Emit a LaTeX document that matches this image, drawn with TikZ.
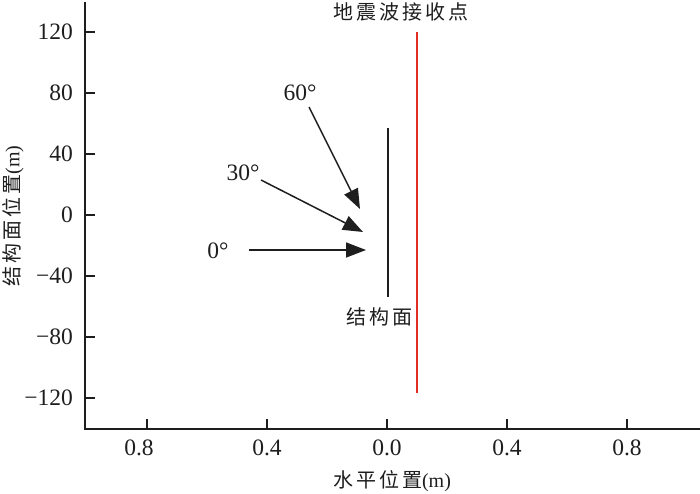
\documentclass[tikz,border=0pt]{standalone}
\usepackage{fontspec}
\setmainfont{Liberation Serif}
\newfontfamily\cjk[LetterSpace=15]{Noto Sans CJK SC}
\usetikzlibrary{arrows.meta}
\definecolor{recv}{RGB}{225,45,35}
\definecolor{ink}{RGB}{30,30,30}
\tikzset{
  axisline/.style={ink,line width=1.8pt},
  tickline/.style={ink,line width=1.5pt},
  ticklab/.style={font=\fontsize{23.5}{26}\selectfont,text=ink,inner sep=0pt},
  cjklab/.style={font=\fontsize{20}{24}\selectfont\cjk,text=ink,inner sep=0pt},
  wave/.style={ink,line width=1.5pt,-{Triangle[length=20pt,width=15pt]}},
}
\begin{document}
\begin{tikzpicture}[x=1pt,y=-1pt]
\useasboundingbox (0,0) rectangle (700,494);
% axes
\coordinate (ytop) at (85,2);
\coordinate (orig) at (85,429);
\coordinate (xend) at (700,429);
\draw[axisline] (ytop) -- (orig) -- (xend);
% y ticks
\foreach \y in {32,93,154,215,276,337,398}{
  \draw[tickline] (85,\y) -- (95,\y);
}
\node[ticklab,anchor=east] (y1) at (73,32) {120};
\node[ticklab,anchor=east] (y2) at (73,93) {80};
\node[ticklab,anchor=east] (y3) at (73,154) {40};
\node[ticklab,anchor=east] (y4) at (73,215) {0};
\node[ticklab,anchor=east] (y5) at (73,276) {−40};
\node[ticklab,anchor=east] (y6) at (73,337) {−80};
\node[ticklab,anchor=east] (y7) at (73,398) {−120};
% x ticks
\foreach \x in {147,267,387,507,627}{
  \draw[tickline] (\x,429) -- (\x,419);
}
\node[ticklab] (x1) at (139,448) {0.8};
\node[ticklab] (x2) at (267,448) {0.4};
\node[ticklab] (x3) at (387,448) {0.0};
\node[ticklab] (x4) at (507,448) {0.4};
\node[ticklab] (x5) at (627,448) {0.8};
% axis titles
\node[cjklab] (xtitle) at (392,481) {水平位置\normalfont(m)};
\node[cjklab,rotate=90] (ytitle) at (13,216) {结构面位置\normalfont(m)};
% receiver line
\coordinate (rtop) at (417,32);
\coordinate (rbot) at (417,393);
\draw[recv,line width=2pt] (rtop) -- (rbot);
\node[cjklab] (rlab) at (401,12) {地震波接收点};
% structure plane
\coordinate (stop) at (388,128);
\coordinate (sbot) at (388,297);
\draw[ink,line width=2pt] (stop) -- (sbot);
\node[cjklab] (slab) at (379,317) {结构面};
% incident waves
\coordinate (a0s) at (249,250);
\coordinate (a0e) at (366,250);
\coordinate (a30s) at (261,180);
\coordinate (a30e) at (363,232);
\coordinate (a60s) at (309,107);
\coordinate (a60e) at (360,209);
\draw[wave] (a0s) -- (a0e);
\draw[wave] (a30s) -- (a30e);
\draw[wave] (a60s) -- (a60e);
\node[ticklab] (l0) at (218,251) {0°};
\node[ticklab] (l30) at (243,173) {30°};
\node[ticklab] (l60) at (300,93) {60°};
\end{tikzpicture}
\end{document}
